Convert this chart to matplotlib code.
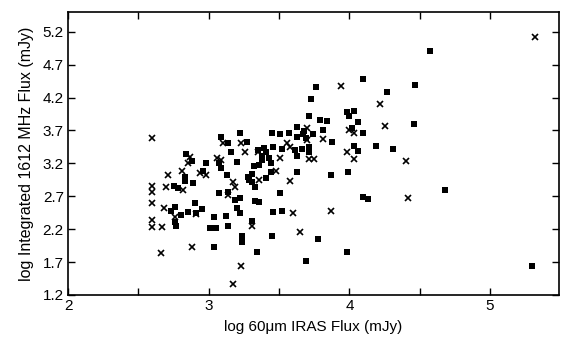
import numpy as np
import matplotlib
matplotlib.use("Agg")
import matplotlib.pyplot as plt

plt.rcParams["font.family"] = ["Liberation Sans", "DejaVu Sans"]

# ----- Data -----
# filled squares
sq_x = [2.84, 2.88, 2.83, 2.83, 2.89, 2.98, 2.96, 2.75, 2.78, 2.90,
        2.76, 2.73, 2.80, 2.85, 2.76, 2.77, 2.91, 2.95, 3.01, 3.05,
        3.04, 3.12, 3.14, 3.04, 3.09, 3.14, 3.16, 3.07, 3.09, 3.20,
        3.13, 3.07, 3.14, 3.19, 3.20, 3.22, 3.27, 3.24, 3.24, 3.31,
        3.45, 3.34, 3.22, 3.22, 3.28, 3.29, 3.31, 3.31, 3.33, 3.33,
        3.36, 3.32, 3.36, 3.41, 3.44, 3.39, 3.46, 3.52, 3.35, 3.38,
        3.41, 3.38, 3.43, 3.44, 3.45, 3.51, 3.57, 3.63, 3.63, 3.67,
        3.69, 3.74, 3.68, 3.61, 3.66, 3.71, 3.71, 3.63, 3.63, 3.51,
        3.46, 3.52, 3.78, 3.69, 3.76, 3.73, 3.71, 3.79, 3.84, 3.81,
        3.88, 3.98, 4.03, 4.00, 4.06, 4.02, 4.10, 4.03, 4.06, 4.19,
        4.31, 3.99, 3.87, 4.10, 4.13, 3.98, 4.10, 4.27, 4.47, 4.57,
        4.46, 4.68, 5.30]
sq_y = [3.34, 3.24, 2.99, 2.93, 2.90, 3.21, 3.08, 2.86, 2.83, 2.60,
        2.54, 2.48, 2.41, 2.46, 2.31, 2.25, 2.45, 2.51, 2.22, 2.22,
        2.38, 2.40, 2.25, 1.93, 3.60, 3.51, 3.37, 3.21, 3.13, 3.22,
        3.02, 2.75, 2.76, 2.64, 2.52, 3.66, 3.53, 2.10, 2.00, 2.32,
        2.10, 1.85, 2.67, 2.45, 2.99, 2.95, 3.04, 2.92, 2.84, 2.63,
        2.61, 3.16, 3.18, 2.98, 3.07, 3.43, 3.45, 3.42, 3.40, 3.31,
        3.37, 3.25, 3.28, 3.21, 3.66, 3.65, 3.66, 3.75, 3.60, 3.65,
        3.59, 3.65, 3.69, 3.40, 3.42, 3.45, 3.37, 3.31, 3.07, 2.75,
        2.46, 2.48, 2.05, 1.71, 4.36, 4.18, 3.92, 3.86, 3.85, 3.71,
        3.53, 3.98, 4.00, 3.92, 3.83, 3.74, 3.66, 3.46, 3.39, 3.46,
        3.42, 3.07, 3.02, 2.69, 2.66, 1.85, 4.48, 4.29, 4.39, 4.90,
        3.80, 2.80, 1.64]

# crosses
cr_x = [2.60, 2.60, 2.60, 2.60, 2.60, 2.60, 2.67, 2.70, 2.68, 2.66,
        2.71, 2.81, 2.82, 2.76, 2.87, 2.85, 2.94, 2.98, 2.88, 3.10,
        3.06, 3.09, 3.17, 3.19, 3.14, 3.17, 3.23, 3.23, 3.26, 3.31,
        3.35, 3.36, 3.48, 3.51, 3.56, 3.58, 3.58, 3.60, 3.65, 3.70,
        3.70, 3.71, 3.75, 3.81, 3.87, 3.94, 4.00, 4.03, 3.98, 4.03,
        4.22, 4.25, 4.40, 4.42, 5.32, 2.91]
cr_y = [3.59, 2.86, 2.76, 2.60, 2.34, 2.23, 2.23, 2.84, 2.52, 1.84,
        3.02, 3.08, 2.80, 2.38, 3.30, 3.21, 3.05, 3.02, 1.93, 3.51,
        3.28, 3.25, 2.92, 2.84, 2.72, 1.36, 1.64, 3.51, 3.37, 2.25,
        3.37, 2.95, 3.08, 3.28, 3.51, 3.45, 2.93, 2.45, 2.16, 3.74,
        3.56, 3.27, 3.27, 3.57, 2.48, 4.38, 3.71, 3.66, 3.37, 3.27,
        4.10, 3.77, 3.24, 2.67, 5.12, 2.43]

x_major = [2, 3, 4, 5]
x_ticks = [2, 2.5, 3, 3.5, 4, 4.5, 5]
y_ticks = [1.2, 1.7, 2.2, 2.7, 3.2, 3.7, 4.2, 4.7, 5.2]

# ----- Plot -----
fig = plt.figure(figsize=(5.70, 3.47), dpi=100)
ax = fig.add_axes([0.1193, 0.1499, 0.8614, 0.8155])

ax.plot(sq_x, sq_y, linestyle="none", marker="s", markersize=4.6,
        color="black", markeredgewidth=0)
ax.plot(cr_x, cr_y, linestyle="none", marker="x", markersize=4.0,
        color="black", markeredgewidth=1.2)

ax.set_xlim(2, 5.49)
ax.set_ylim(1.2, 5.5)
ax.set_xticks(x_ticks)
ax.set_xticklabels([str(t) if t in x_major else "" for t in x_ticks])
ax.set_yticks(y_ticks)
ax.set_yticklabels([f"{t:.1f}" for t in y_ticks])

ax.tick_params(direction="in", length=5, width=1.0, top=True, right=True,
               labelsize=11, colors="black", pad=3)
for s in ax.spines.values():
    s.set_linewidth(1.2)

ax.set_xlabel("log 60\u03bcm IRAS Flux (mJy)", fontsize=11, labelpad=5)
ax.set_ylabel("log Integrated 1612 MHz Flux (mJy)", fontsize=11.5, labelpad=6)

fig.savefig("out.png", dpi=100)
